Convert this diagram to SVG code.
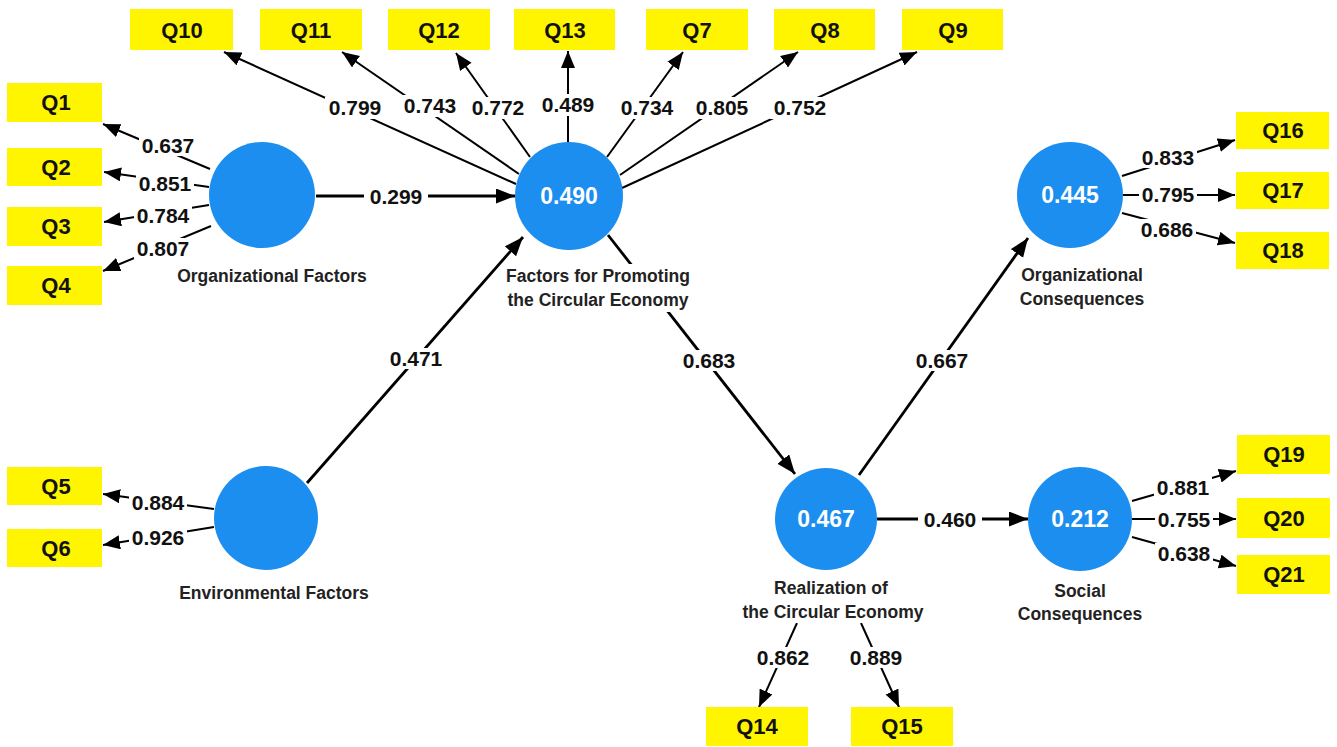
<svg xmlns="http://www.w3.org/2000/svg" width="1337" height="747" viewBox="0 0 1337 747">
<style>
.box{fill:#FFF500}
.bt{font-family:"Liberation Sans",Arial,sans-serif;font-weight:bold;font-size:22px;fill:#111;text-anchor:middle}
.lv{fill:#1C8EF0}
.cv{font-family:"Liberation Sans",Arial,sans-serif;font-weight:bold;font-size:23px;fill:#fff;text-anchor:middle}
.nl{font-family:"Liberation Sans",Arial,sans-serif;font-weight:bold;font-size:17.5px;fill:#222;text-anchor:middle}
.num{font-family:"Liberation Sans",Arial,sans-serif;font-weight:bold;font-size:21px;fill:#111;text-anchor:middle}
.bg{fill:#fff}
.ln{stroke:#000;stroke-width:2;fill:none;marker-end:url(#ah)}
.sp{stroke:#000;stroke-width:2.8;fill:none;marker-end:url(#ah2)}
</style>
<defs>
<marker id="ah" markerUnits="userSpaceOnUse" markerWidth="18" markerHeight="15" refX="17" refY="7" orient="auto">
<path d="M0,0 L17,7 L0,14 z" fill="#000"/>
</marker>
<marker id="ah2" markerUnits="userSpaceOnUse" markerWidth="20" markerHeight="16" refX="19" refY="7.5" orient="auto">
<path d="M0,0 L19,7.5 L0,15 z" fill="#000"/>
</marker>
</defs>
<rect width="1337" height="747" fill="#fff"/>

<g id="connectors">
<line class="ln" x1="210" y1="169" x2="103" y2="124"/>
<line class="ln" x1="209" y1="187" x2="104" y2="172"/>
<line class="ln" x1="209" y1="205" x2="104" y2="222"/>
<line class="ln" x1="211" y1="226" x2="103" y2="271"/>
<line class="ln" x1="214" y1="509" x2="103" y2="494"/>
<line class="ln" x1="214" y1="527" x2="103" y2="545"/>
<line class="ln" x1="516" y1="184" x2="224" y2="52"/>
<line class="ln" x1="519" y1="174" x2="342" y2="52"/>
<line class="ln" x1="530" y1="157" x2="456" y2="53"/>
<line class="ln" x1="568" y1="142" x2="568" y2="51"/>
<line class="ln" x1="607" y1="157" x2="683" y2="52"/>
<line class="ln" x1="620" y1="175" x2="798" y2="52"/>
<line class="ln" x1="622" y1="188" x2="917" y2="52"/>
<line class="ln" x1="1122" y1="176" x2="1235" y2="140"/>
<line class="ln" x1="1123" y1="195" x2="1235" y2="195"/>
<line class="ln" x1="1122" y1="213" x2="1235" y2="243"/>
<line class="ln" x1="1132" y1="501" x2="1236" y2="471"/>
<line class="ln" x1="1132" y1="519" x2="1236" y2="519"/>
<line class="ln" x1="1132" y1="537" x2="1236" y2="566"/>
<line class="ln" x1="797" y1="623" x2="759" y2="707"/>
<line class="ln" x1="861" y1="623" x2="899" y2="707"/>
<line class="sp" x1="316" y1="196" x2="515" y2="196"/>
<line class="sp" x1="307" y1="483" x2="523" y2="237"/>
<line class="sp" x1="608" y1="235" x2="795" y2="474"/>
<line class="sp" x1="859" y1="475" x2="1028" y2="238"/>
<line class="sp" x1="877" y1="519" x2="1028" y2="519"/>

<rect class="bg" x="139" y="135" width="58" height="21"/><text class="num" x="168" y="153">0.637</text>
<rect class="bg" x="136" y="173" width="58" height="21"/><text class="num" x="165" y="191">0.851</text>
<rect class="bg" x="134" y="205" width="58" height="21"/><text class="num" x="163" y="223">0.784</text>
<rect class="bg" x="134" y="238" width="58" height="21"/><text class="num" x="163" y="256">0.807</text>
<rect class="bg" x="129" y="492" width="58" height="21"/><text class="num" x="158" y="510">0.884</text>
<rect class="bg" x="129" y="527" width="58" height="21"/><text class="num" x="158" y="545">0.926</text>
<rect class="bg" x="325" y="97" width="60" height="22"/><text class="num" x="355" y="115">0.799</text>
<rect class="bg" x="400" y="95" width="60" height="22"/><text class="num" x="430" y="113">0.743</text>
<rect class="bg" x="468" y="97" width="60" height="22"/><text class="num" x="498" y="115">0.772</text>
<rect class="bg" x="538" y="94" width="60" height="22"/><text class="num" x="568" y="112">0.489</text>
<rect class="bg" x="617" y="97" width="60" height="22"/><text class="num" x="647" y="115">0.734</text>
<rect class="bg" x="692" y="97" width="60" height="22"/><text class="num" x="722" y="115">0.805</text>
<rect class="bg" x="770" y="97" width="60" height="22"/><text class="num" x="800" y="115">0.752</text>
<rect class="bg" x="1139" y="147" width="58" height="21"/><text class="num" x="1168" y="165">0.833</text>
<rect class="bg" x="1139" y="184" width="58" height="21"/><text class="num" x="1168" y="202">0.795</text>
<rect class="bg" x="1138" y="219" width="58" height="21"/><text class="num" x="1167" y="237">0.686</text>
<rect class="bg" x="1154" y="477" width="58" height="21"/><text class="num" x="1183" y="495">0.881</text>
<rect class="bg" x="1155" y="509" width="58" height="21"/><text class="num" x="1184" y="527">0.755</text>
<rect class="bg" x="1155" y="543" width="58" height="21"/><text class="num" x="1184" y="561">0.638</text>
<rect class="bg" x="754" y="647" width="58" height="21"/><text class="num" x="783" y="665">0.862</text>
<rect class="bg" x="847" y="647" width="58" height="21"/><text class="num" x="876" y="665">0.889</text>
<rect class="bg" x="364" y="186" width="64" height="21"/><text class="num" x="396" y="204">0.299</text>
<rect class="bg" x="384" y="348" width="64" height="21"/><text class="num" x="416" y="366">0.471</text>
<rect class="bg" x="677" y="350" width="64" height="21"/><text class="num" x="709" y="368">0.683</text>
<rect class="bg" x="910" y="350" width="64" height="21"/><text class="num" x="942" y="368">0.667</text>
<rect class="bg" x="918" y="509" width="64" height="21"/><text class="num" x="950" y="527">0.460</text>
</g>

<g id="org-factors">
<circle class="lv" cx="262" cy="195" r="53"/>
<rect class="bg" x="174" y="264" width="196" height="22"/>
<text class="nl" x="272" y="282">Organizational Factors</text>
</g>
<g id="env-factors">
<circle class="lv" cx="266" cy="518" r="52"/>
<rect class="bg" x="176" y="582" width="196" height="22"/>
<text class="nl" x="274" y="599">Environmental Factors</text>
</g>
<g id="promoting">
<circle class="lv" cx="569" cy="196" r="54"/>
<text class="cv" x="569" y="204">0.490</text>
<rect class="bg" x="502" y="264" width="192" height="48"/>
<text class="nl" x="598" y="282">Factors for Promoting</text>
<text class="nl" x="598" y="306">the Circular Economy</text>
</g>
<g id="realization">
<circle class="lv" cx="826" cy="519" r="51"/>
<text class="cv" x="826" y="527">0.467</text>
<rect class="bg" x="738" y="577" width="190" height="46"/>
<text class="nl" x="831" y="594">Realization of</text>
<text class="nl" x="833" y="618">the Circular Economy</text>
</g>
<g id="org-consequences">
<circle class="lv" cx="1070" cy="195" r="53"/>
<text class="cv" x="1070" y="203">0.445</text>
<text class="nl" x="1082" y="281">Organizational</text>
<text class="nl" x="1082" y="305">Consequences</text>
</g>
<g id="social-consequences">
<circle class="lv" cx="1080" cy="519" r="52"/>
<text class="cv" x="1080" y="527">0.212</text>
<text class="nl" x="1080" y="597">Social</text>
<text class="nl" x="1080" y="620">Consequences</text>
</g>

<g id="Q1"><rect class="box" x="7" y="83" width="95" height="39"/><text class="bt" x="56" y="110">Q1</text></g>
<g id="Q2"><rect class="box" x="7" y="148" width="95" height="38"/><text class="bt" x="56" y="175">Q2</text></g>
<g id="Q3"><rect class="box" x="7" y="207" width="95" height="39"/><text class="bt" x="56" y="234">Q3</text></g>
<g id="Q4"><rect class="box" x="7" y="266" width="95" height="39"/><text class="bt" x="56" y="293">Q4</text></g>
<g id="Q5"><rect class="box" x="7" y="467" width="95" height="38"/><text class="bt" x="56" y="494">Q5</text></g>
<g id="Q6"><rect class="box" x="7" y="529" width="95" height="38"/><text class="bt" x="56" y="556">Q6</text></g>
<g id="Q10"><rect class="box" x="130" y="9" width="103" height="41"/><text class="bt" x="182" y="38">Q10</text></g>
<g id="Q11"><rect class="box" x="260" y="9" width="102" height="41"/><text class="bt" x="311" y="38">Q11</text></g>
<g id="Q12"><rect class="box" x="388" y="9" width="102" height="41"/><text class="bt" x="439" y="38">Q12</text></g>
<g id="Q13"><rect class="box" x="514" y="9" width="101" height="41"/><text class="bt" x="565" y="38">Q13</text></g>
<g id="Q7"><rect class="box" x="646" y="9" width="102" height="41"/><text class="bt" x="697" y="38">Q7</text></g>
<g id="Q8"><rect class="box" x="774" y="9" width="101" height="41"/><text class="bt" x="825" y="38">Q8</text></g>
<g id="Q9"><rect class="box" x="902" y="9" width="101" height="41"/><text class="bt" x="953" y="38">Q9</text></g>
<g id="Q16"><rect class="box" x="1236" y="112" width="93" height="37"/><text class="bt" x="1283" y="138">Q16</text></g>
<g id="Q17"><rect class="box" x="1236" y="172" width="93" height="37"/><text class="bt" x="1283" y="198">Q17</text></g>
<g id="Q18"><rect class="box" x="1236" y="232" width="93" height="37"/><text class="bt" x="1283" y="258">Q18</text></g>
<g id="Q19"><rect class="box" x="1237" y="435" width="93" height="39"/><text class="bt" x="1284" y="462">Q19</text></g>
<g id="Q20"><rect class="box" x="1237" y="498" width="93" height="40"/><text class="bt" x="1284" y="526">Q20</text></g>
<g id="Q21"><rect class="box" x="1237" y="555" width="93" height="39"/><text class="bt" x="1284" y="582">Q21</text></g>
<g id="Q14"><rect class="box" x="706" y="707" width="102" height="39"/><text class="bt" x="757" y="734">Q14</text></g>
<g id="Q15"><rect class="box" x="851" y="707" width="102" height="39"/><text class="bt" x="902" y="734">Q15</text></g>
</svg>
